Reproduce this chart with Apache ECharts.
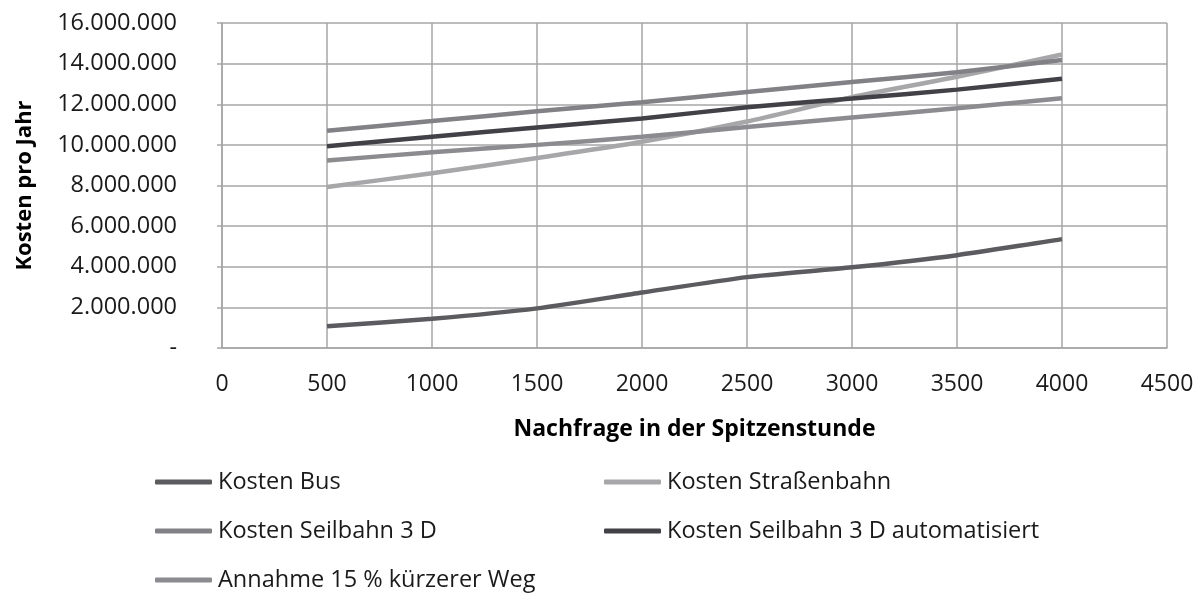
<!DOCTYPE html>
<html>
<head>
<meta charset="utf-8">
<script src="https://cdn.jsdelivr.net/npm/echarts@6/dist/echarts.min.js"></script>
<style>
  html, body { margin: 0; padding: 0; background: #fff; }
  #chart { width: 1204px; height: 599px; }
</style>
</head>
<body>
<div id="chart"></div>
<script>
// Nachfrage in der Spitzenstunde (x-Werte)
const demand = [500, 1000, 1500, 2000, 2500, 3000, 3500, 4000];

// Kosten pro Jahr je Variante
const kostenBus = [1070000, 1440000, 1950000, 2730000, 3490000, 3970000, 4570000, 5360000];
const kostenStrassenbahn = [7930000, 8600000, 9350000, 10150000, 11150000, 12350000, 13350000, 14450000];
const kostenSeilbahn3D = [10700000, 11170000, 11650000, 12100000, 12600000, 13090000, 13580000, 14180000];
const kostenSeilbahnAuto = [9930000, 10400000, 10860000, 11300000, 11850000, 12280000, 12720000, 13250000];
const annahmeKuerzer = [9230000, 9640000, 10000000, 10400000, 10880000, 11350000, 11800000, 12300000];

const seriesNames = ['Kosten Bus', 'Kosten Straßenbahn', 'Kosten Seilbahn 3 D', 'Kosten Seilbahn 3 D automatisiert', 'Annahme 15 % kürzerer Weg'];
const seriesValues = [kostenBus, kostenStrassenbahn, kostenSeilbahn3D, kostenSeilbahnAuto, annahmeKuerzer];
const colorList = ['#5b5b60', '#a7a7aa', '#818186', '#414147', '#8b8b90'];

// Legendenposition je Serie (Spalte links / rechts, Zeile 1..3)
const legendSlots = [[155, 482], [604, 482], [155, 531], [604, 531], [155, 580]];

const FONT = '"Open Sans", sans-serif';
const gridColor = '#a6a6a6';

// 0 wird als "-" angezeigt, sonst mit Tausenderpunkten
function formatY(v) {
  if (v === 0) return '-';
  return String(v).replace(/\B(?=(\d{3})+(?!\d))/g, '.');
}

const chart = echarts.init(document.getElementById('chart'));

const seriesList = seriesNames.map((name, i) => ({
  name: name,
  type: 'line',
  data: demand.map((x, j) => [x, seriesValues[i][j]]),
  showSymbol: false,
  smooth: 0.2,
  lineStyle: {color: colorList[i], width: 4.5},
  itemStyle: {color: colorList[i]},
  z: 3 + i
}));

// eine Legende pro Eintrag, damit das Raster 2 Spalten x 3 Zeilen stimmt
const legendList = seriesNames.map((name, i) => ({
  data: [name],
  left: legendSlots[i][0],
  top: legendSlots[i][1] - 14,
  padding: 0,
  icon: 'roundRect',
  itemWidth: 57,
  itemHeight: 5,
  textStyle: {fontFamily: FONT, fontSize: 23.5, color: '#1a1a1a', lineHeight: 28, padding: [0, 0, 0, 1]}
}));

chart.setOption({
  animation: false,
  grid: {left: 222, right: 37, top: 23, bottom: 251},
  xAxis: {
    type: 'value',
    min: 0,
    max: 4500,
    interval: 500,
    name: 'Nachfrage in der Spitzenstunde',
    nameLocation: 'middle',
    nameGap: 70,
    nameTextStyle: {fontFamily: FONT, fontSize: 23, fontWeight: 'bold', color: '#000'},
    axisLine: {show: true, lineStyle: {color: gridColor, width: 1.5}},
    axisTick: {show: false},
    axisLabel: {fontFamily: FONT, fontSize: 23, color: '#1a1a1a', margin: 25, formatter: (v) => String(v)},
    splitLine: {show: true, lineStyle: {color: gridColor, width: 1.5}}
  },
  yAxis: {
    type: 'value',
    min: 0,
    max: 16000000,
    interval: 2000000,
    name: 'Kosten pro Jahr',
    nameLocation: 'middle',
    nameGap: 186,
    nameTextStyle: {fontFamily: FONT, fontSize: 22, fontWeight: 'bold', color: '#000'},
    axisLine: {show: true, lineStyle: {color: gridColor, width: 1.5}},
    axisTick: {show: true, length: 5, lineStyle: {color: gridColor, width: 1.5}},
    axisLabel: {fontFamily: FONT, fontSize: 23.5, color: '#1a1a1a', margin: 45, formatter: formatY},
    splitLine: {show: true, lineStyle: {color: gridColor, width: 1.5}}
  },
  legend: legendList,
  series: seriesList
});
</script>
</body>
</html>
